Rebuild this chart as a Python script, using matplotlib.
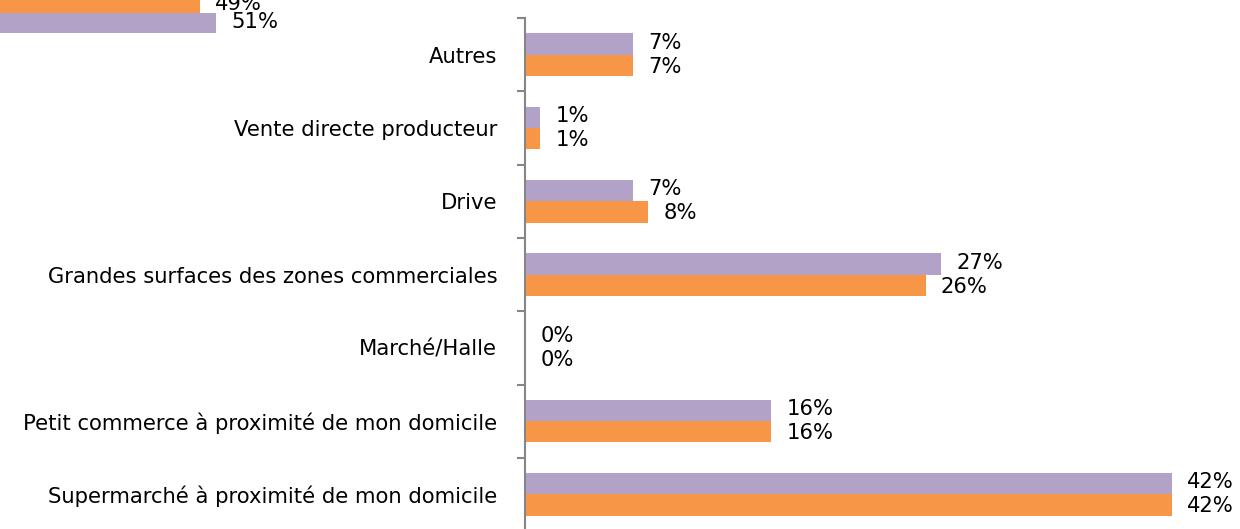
import numpy as np
import matplotlib
matplotlib.use("Agg")
from matplotlib import pyplot as plt

# categories, bottom to top
categories = ["Supermarché à proximité de mon domicile",
              "Petit commerce à proximité de mon domicile",
              "Marché/Halle",
              "Grandes surfaces des zones commerciales",
              "Drive",
              "Vente directe producteur",
              "Autres"]
purple_vals = [42, 16, 0, 27, 7, 1, 7]
orange_vals = [42, 16, 0, 26, 8, 1, 7]

# the piece of the chart above, cut off by the frame
top_purple = [51]
top_orange = [49]

purple = "#B3A2C7"
orange = "#F79646"
grey = "#868686"
font = ["DejaVu Sans"]
fs = 15.2

W, H = 1240, 529
fig = plt.figure(figsize=(W / 100, H / 100), dpi=100)

# main chart: zero at x=525, 15.4 px per percent, categories 73.3 px apart
x0 = 525
ppp = 15.405
xmax = 46
top = 18
cat_h = 73.3
ax = fig.add_axes([x0 / W, (H - top - 7 * cat_h) / H, xmax * ppp / W, 7 * cat_h / H])

y = np.arange(len(categories))
bh = 0.29
ax.barh(y + bh / 2, purple_vals, height=bh, color=purple)
ax.barh(y - bh / 2, orange_vals, height=bh, color=orange)

off = 11
for i in range(len(categories)):
    ax.annotate(f"{purple_vals[i]}%", (purple_vals[i], y[i] + bh / 2), xytext=(off, 1),
                textcoords="offset points", va="center", ha="left", fontsize=fs, family=font)
    ax.annotate(f"{orange_vals[i]}%", (orange_vals[i], y[i] - bh / 2), xytext=(off, -1),
                textcoords="offset points", va="center", ha="left", fontsize=fs, family=font)

ax.set_xlim(0, xmax)
ax.set_ylim(-0.5, len(categories) - 0.5)
for s in ["top", "right", "bottom"]:
    ax.spines[s].set_visible(False)
ax.spines["left"].set_color(grey)
ax.spines["left"].set_linewidth(1.5)
ax.set_xticks([])
ax.set_yticks(y)
ax.set_yticklabels(categories, fontsize=fs, family=font)
ax.tick_params(axis="y", which="major", length=0, pad=20)
ax.set_yticks(np.arange(-0.5, len(categories), 1), minor=True)
ax.tick_params(axis="y", which="minor", length=6, width=1.5, color=grey)

# cut-off chart at top left: zero off-frame at x=-192, 8 px per percent
ax2 = fig.add_axes([-192 / W, 486 / H, 500 / W, 60 / H])
ax2.barh([0], top_purple, height=1, color=purple)
ax2.barh([1], top_orange, height=1, color=orange)
ax2.annotate(f"{top_purple[0]}%", (top_purple[0], 0), xytext=(off, 1), textcoords="offset points",
             va="center", ha="left", fontsize=fs, family=font)
ax2.annotate(f"{top_orange[0]}%", (top_orange[0], 1), xytext=(off, -1), textcoords="offset points",
             va="center", ha="left", fontsize=fs, family=font)
ax2.set_xlim(0, 62.5)
ax2.set_ylim(-1, 2)
ax2.axis("off")

fig.savefig("out.png", dpi=100)
